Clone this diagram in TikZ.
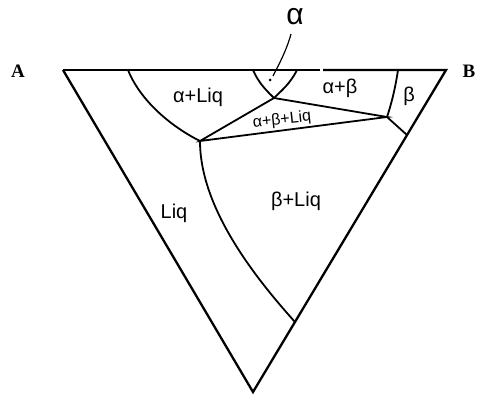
\documentclass[tikz,border=0pt]{standalone}
\usepackage{fontspec}
\setmainfont{Liberation Sans}
\newfontfamily\serifbold{Liberation Serif}
\begin{document}
\begin{tikzpicture}[x=1pt,y=-1pt,
  edge/.style={line width=2.3pt,line join=miter},
  bnd/.style={line width=1.8pt},
  lbl/.style={font=\fontsize{20}{20}\selectfont,inner sep=0pt},
  corner/.style={font=\serifbold\bfseries\fontsize{19}{19}\selectfont,inner sep=0pt}]
\useasboundingbox (0,0) rectangle (486,401);
% corners
\coordinate (TL) at (63,70);
\coordinate (TR) at (446,70);
\coordinate (BOT) at (253,392);
% key points
\coordinate (E) at (200,141);
\coordinate (P) at (274,98);
\coordinate (Q) at (387,117);
\coordinate (R) at (407,135);
\coordinate (S) at (295,322);
% triangle
\draw[edge,line width=2.8pt] (TL) -- (320,70);
\draw[edge] (323,70) -- (TR) -- (BOT) -- (TL);
% boundaries
\draw[bnd] (128,70) .. controls (140,100) and (170,126) .. (E);
\draw[bnd] (E) .. controls (200,205) and (250,272) .. (S);
\draw[bnd] (253,70) .. controls (259,84) and (268,92) .. (P);
\draw[bnd] (297,70) .. controls (290,84) and (281,91) .. (P);
\draw[bnd] (E) -- (P) -- (Q) -- cycle;
\draw[bnd] (398,70) .. controls (395,90) and (391,105) .. (Q);
\draw[bnd] (Q) -- (R);
% alpha leader
\node[lbl,font=\fontsize{30}{30}\selectfont] (alab) at (295,17) {α};
\coordinate (adot) at (273,76);
\draw[line width=1.2pt] (291,34) .. controls (286,52) and (278,66) .. (adot);
\fill (270,80) circle (1.5pt);
% labels
\node[lbl] (aliq) at (198,97) {α+Liq};
\node[lbl] (ab) at (340,88) {α+β};
\node[lbl] (b) at (409,96) {β};
\node[lbl,rotate=6,font=\fontsize{16}{16}\selectfont] (abliq) at (282,120) {α+β+Liq};
\node[lbl] (liq) at (174,213) {Liq};
\node[lbl] (bliq) at (296,201) {β+Liq};
\node[corner] (A) at (18,71) {A};
\node[corner] (B) at (469,71) {B};
\end{tikzpicture}
\end{document}
